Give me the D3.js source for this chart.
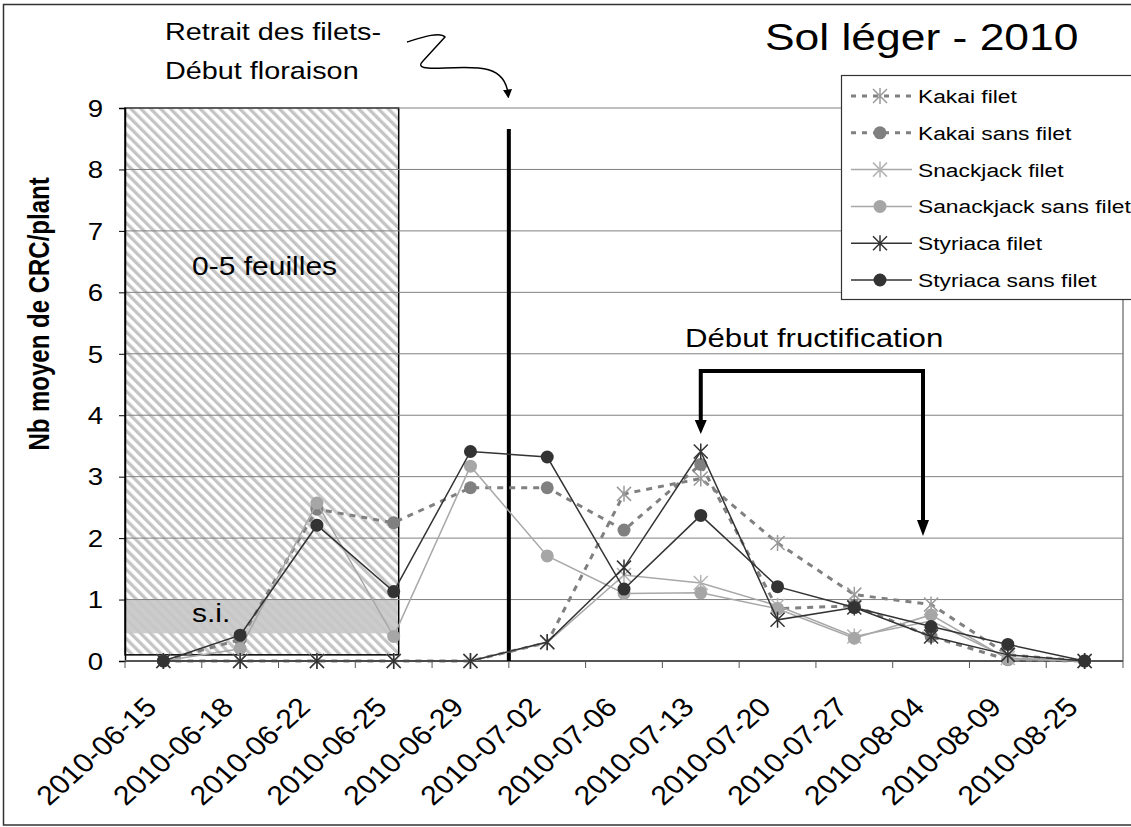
<!DOCTYPE html>
<html>
<head>
<meta charset="utf-8">
<script src="https://cdn.jsdelivr.net/npm/d3@7/dist/d3.min.js"></script>
<style>
body { margin: 0; background: #fff; }
text { font-family: "Liberation Sans", Arial, sans-serif; fill: #000; }
</style>
</head>
<body>
<div class="chart"></div>
<script>
// data
var dates = ["2010-06-15","2010-06-18","2010-06-22","2010-06-25","2010-06-29","2010-07-02","2010-07-06",
             "2010-07-13","2010-07-20","2010-07-27","2010-08-04","2010-08-09","2010-08-25"];
var yTicks = [0,1,2,3,4,5,6,7,8,9];

var kakaiFilet        = [0, 0,    0,    0,    0,    0.30, 2.72, 2.97, 1.92, 1.08, 0.92, 0.10, 0];
var kakaiSansFilet    = [0, 0.35, 2.47, 2.25, 2.82, 2.82, 2.13, 3.20, 0.85, 0.90, 0.40, 0.02, 0];
var snackFilet        = [0, 0,    0,    0,    0,    0.30, 1.40, 1.27, 0.90, 0.40, 0.65, 0.05, 0];
var snackSansFilet    = [0, 0.20, 2.57, 0.40, 3.17, 1.71, 1.10, 1.11, 0.85, 0.37, 0.75, 0.03, 0];
var styriacaFilet     = [0, 0,    0,    0,    0,    0.31, 1.52, 3.41, 0.67, 0.87, 0.40, 0.10, 0];
var styriacaSansFilet = [0, 0.42, 2.21, 1.13, 3.41, 3.32, 1.17, 2.37, 1.21, 0.87, 0.56, 0.27, 0];

var seriesNames = ["Kakai filet","Kakai sans filet","Snackjack filet","Sanackjack sans filet","Styriaca filet","Styriaca sans filet"];
var seriesValues = [kakaiFilet, kakaiSansFilet, snackFilet, snackSansFilet, styriacaFilet, styriacaSansFilet];

// styles
var lineColors   = ["#808080","#808080","#a8a8a8","#a8a8a8","#333333","#333333"];
var markerColors = ["#9a9a9a","#808080","#b4b4b4","#a6a6a6","#333333","#333333"];
var markerTypes  = ["star","circle","star","circle","star","circle"];
var dashed       = [true,true,false,false,false,false];

var width = 1131, height = 827;
var SX = 1.2; // text in the picture is stretched horizontally

var svg = d3.select(".chart").append("svg")
    .attr("width", width)
    .attr("height", height);

var x = d3.scaleBand().domain(dates).range([125, 1123]);
var y = d3.scaleLinear().domain([0, 9]).range([661, 108]);
var cx = function(d){ return x(d) + x.bandwidth() / 2; };

function stext(g, str, px, py, size, anchor) {
  return g.append("text")
    .attr("transform", "translate(" + px + "," + py + ") scale(" + SX + ",1)")
    .attr("text-anchor", anchor || "start")
    .style("font-size", size + "px")
    .text(str);
}

// outer frame
svg.append("rect")
    .attr("x", 3.5).attr("y", 4.5)
    .attr("width", 1140).attr("height", 820.5)
    .attr("fill", "#fff").attr("stroke", "#333").attr("stroke-width", 1.5);

// hatch pattern
var defs = svg.append("defs");
var pat = defs.append("pattern")
    .attr("id", "hatch")
    .attr("patternUnits", "userSpaceOnUse")
    .attr("width", 7).attr("height", 7)
    .attr("patternTransform", "rotate(-45)");
pat.append("rect").attr("width", 7).attr("height", 7).attr("fill", "#fff");
pat.append("rect").attr("width", 3.3).attr("height", 7).attr("fill", "#c4c4c4");

defs.append("marker")
    .attr("id", "tip")
    .attr("viewBox", "0 0 10 10")
    .attr("refX", 5).attr("refY", 5)
    .attr("markerWidth", 6).attr("markerHeight", 6)
    .attr("orient", "auto")
  .append("path")
    .attr("d", "M0,0L10,5L0,10Z")
    .attr("fill", "#000");

// 0-5 feuilles zone
var zoneRight = cx(dates[3]) + 5;
svg.append("rect")
    .attr("x", 125).attr("y", y(9))
    .attr("width", zoneRight - 125).attr("height", y(0.1) - y(9))
    .attr("fill", "url(#hatch)")
    .attr("stroke", "#000").attr("stroke-width", 1.5);

svg.append("rect")
    .attr("x", 126).attr("y", y(1))
    .attr("width", zoneRight - 127).attr("height", y(0.45) - y(1))
    .attr("fill", "#c6c6c6").attr("opacity", 0.9);

// gridlines
svg.append("g").selectAll("line")
    .data(yTicks.filter(function(d){ return d > 0; }))
  .enter().append("line")
    .attr("x1", 125).attr("x2", 1123)
    .attr("y1", function(d){ return y(d); })
    .attr("y2", function(d){ return y(d); })
    .attr("stroke", "#808080").attr("stroke-width", 1);

svg.append("line")
    .attr("x1", 1123).attr("x2", 1123).attr("y1", y(9)).attr("y2", y(0))
    .attr("stroke", "#808080").attr("stroke-width", 1.5);

// y axis
var yAxis = svg.append("g")
    .attr("transform", "translate(125,0)")
    .call(d3.axisLeft(y).tickValues(yTicks).tickSize(6).tickFormat(d3.format("d")));
yAxis.select(".domain").attr("stroke", "#000").attr("stroke-width", 1.5);
yAxis.selectAll(".tick line").attr("stroke", "#000");
yAxis.selectAll(".tick text")
    .attr("x", -22 / SX)
    .attr("dy", "0.36em")
    .attr("transform", "scale(" + SX + ",1)")
    .style("font-size", "23px")
    .style("font-family", "'Liberation Sans', Arial, sans-serif")
    .attr("fill", "#000");

// x axis line and boundary ticks
svg.append("line")
    .attr("x1", 125).attr("x2", 1123).attr("y1", y(0)).attr("y2", y(0))
    .attr("stroke", "#555").attr("stroke-width", 2);
svg.append("g").selectAll("line")
    .data(d3.range(dates.length + 1))
  .enter().append("line")
    .attr("x1", function(i){ return 125 + i * x.step(); })
    .attr("x2", function(i){ return 125 + i * x.step(); })
    .attr("y1", y(0)).attr("y2", y(0) + 7)
    .attr("stroke", "#555").attr("stroke-width", 1);

svg.append("g").selectAll("text")
    .data(dates)
  .enter().append("text")
    .attr("transform", function(d){
      return "translate(" + (cx(d) - 5) + ",709) scale(1.12,1) rotate(-45)";
    })
    .attr("text-anchor", "end")
    .style("font-size", "27px")
    .text(function(d){ return d; });

// y title
svg.append("text")
    .attr("transform", "translate(49,314) rotate(-90) scale(1,1.2)")
    .attr("text-anchor", "middle")
    .style("font-size", "24px")
    .style("font-weight", "bold")
    .text("Nb moyen de CRC/plant");

// net removal line
svg.append("line")
    .attr("x1", 125 + 5 * x.step()).attr("x2", 125 + 5 * x.step())
    .attr("y1", 129).attr("y2", y(0))
    .attr("stroke", "#000").attr("stroke-width", 4);

// series
var line = d3.line()
    .x(function(d, i){ return cx(dates[i]); })
    .y(function(d){ return y(d); });

seriesValues.forEach(function(vals, k) {
  svg.append("path")
      .datum(vals)
      .attr("d", line)
      .attr("fill", "none")
      .attr("stroke", lineColors[k])
      .attr("stroke-width", dashed[k] ? 3 : 1.5)
      .attr("stroke-dasharray", dashed[k] ? "6,6" : null);
  drawMarkers(svg, vals.map(function(v, i){ return [cx(dates[i]), y(v)]; }), k);
});

function drawMarkers(g, pts, k) {
  if (markerTypes[k] === "circle") {
    g.append("g").selectAll("circle")
        .data(pts)
      .enter().append("circle")
        .attr("cx", function(p){ return p[0]; })
        .attr("cy", function(p){ return p[1]; })
        .attr("r", 6.5)
        .attr("fill", markerColors[k]);
  } else {
    g.append("g").selectAll("path")
        .data(pts)
      .enter().append("path")
        .attr("d", function(p){
          var a = p[0], b = p[1];
          return "M" + (a-7) + "," + (b-7) + "L" + (a+7) + "," + (b+7) +
                 "M" + (a-7) + "," + (b+7) + "L" + (a+7) + "," + (b-7) +
                 "M" + a + "," + (b-8) + "L" + a + "," + (b+8);
        })
        .attr("fill", "none")
        .attr("stroke", markerColors[k])
        .attr("stroke-width", 1.5);
  }
}

// legend
var lg = svg.append("g");
lg.append("rect")
    .attr("x", 841.5).attr("y", 75.5)
    .attr("width", 300).attr("height", 224)
    .attr("fill", "#fff").attr("stroke", "#333").attr("stroke-width", 1.2);
seriesNames.forEach(function(name, k) {
  var ly = 96 + k * 36.8;
  lg.append("line")
      .attr("x1", 851).attr("x2", 912).attr("y1", ly).attr("y2", ly)
      .attr("stroke", lineColors[k])
      .attr("stroke-width", dashed[k] ? 3 : 1.5)
      .attr("stroke-dasharray", dashed[k] ? "5,6" : null);
  drawMarkers(lg, [[880, ly]], k);
  stext(lg, name, 918, ly + 7, 19);
});

// annotations
stext(svg, "Sol léger - 2010", 765, 50, 37);
stext(svg, "Retrait des filets-", 165, 40, 24);
stext(svg, "Début floraison", 165, 79, 24);
stext(svg, "0-5 feuilles", 192, 275, 25);
stext(svg, "s.i.", 192, 622, 25);
stext(svg, "Début fructification", 685, 347, 26);

svg.append("path")
    .attr("d", "M407,42 C420,38 440,31 445,37 L423,61 C416,68 425,69 445,68 C480,66 505,66 508,94")
    .attr("fill", "none")
    .attr("stroke", "#000").attr("stroke-width", 1.5)
    .attr("marker-end", "url(#tip)");

// fructification bracket
var bx1 = cx(dates[7]), bx2 = 923;
svg.append("path")
    .attr("d", "M" + bx1 + ",420 L" + bx1 + ",371 L" + bx2 + ",371 L" + bx2 + ",522")
    .attr("fill", "none")
    .attr("stroke", "#000").attr("stroke-width", 4);
[[bx1, 420, 434], [bx2, 520, 536]].forEach(function(a) {
  svg.append("path")
      .attr("d", "M" + (a[0]-6) + "," + a[1] + "L" + (a[0]+6) + "," + a[1] + "L" + a[0] + "," + a[2] + "Z")
      .attr("fill", "#000");
});
</script>
</body>
</html>
